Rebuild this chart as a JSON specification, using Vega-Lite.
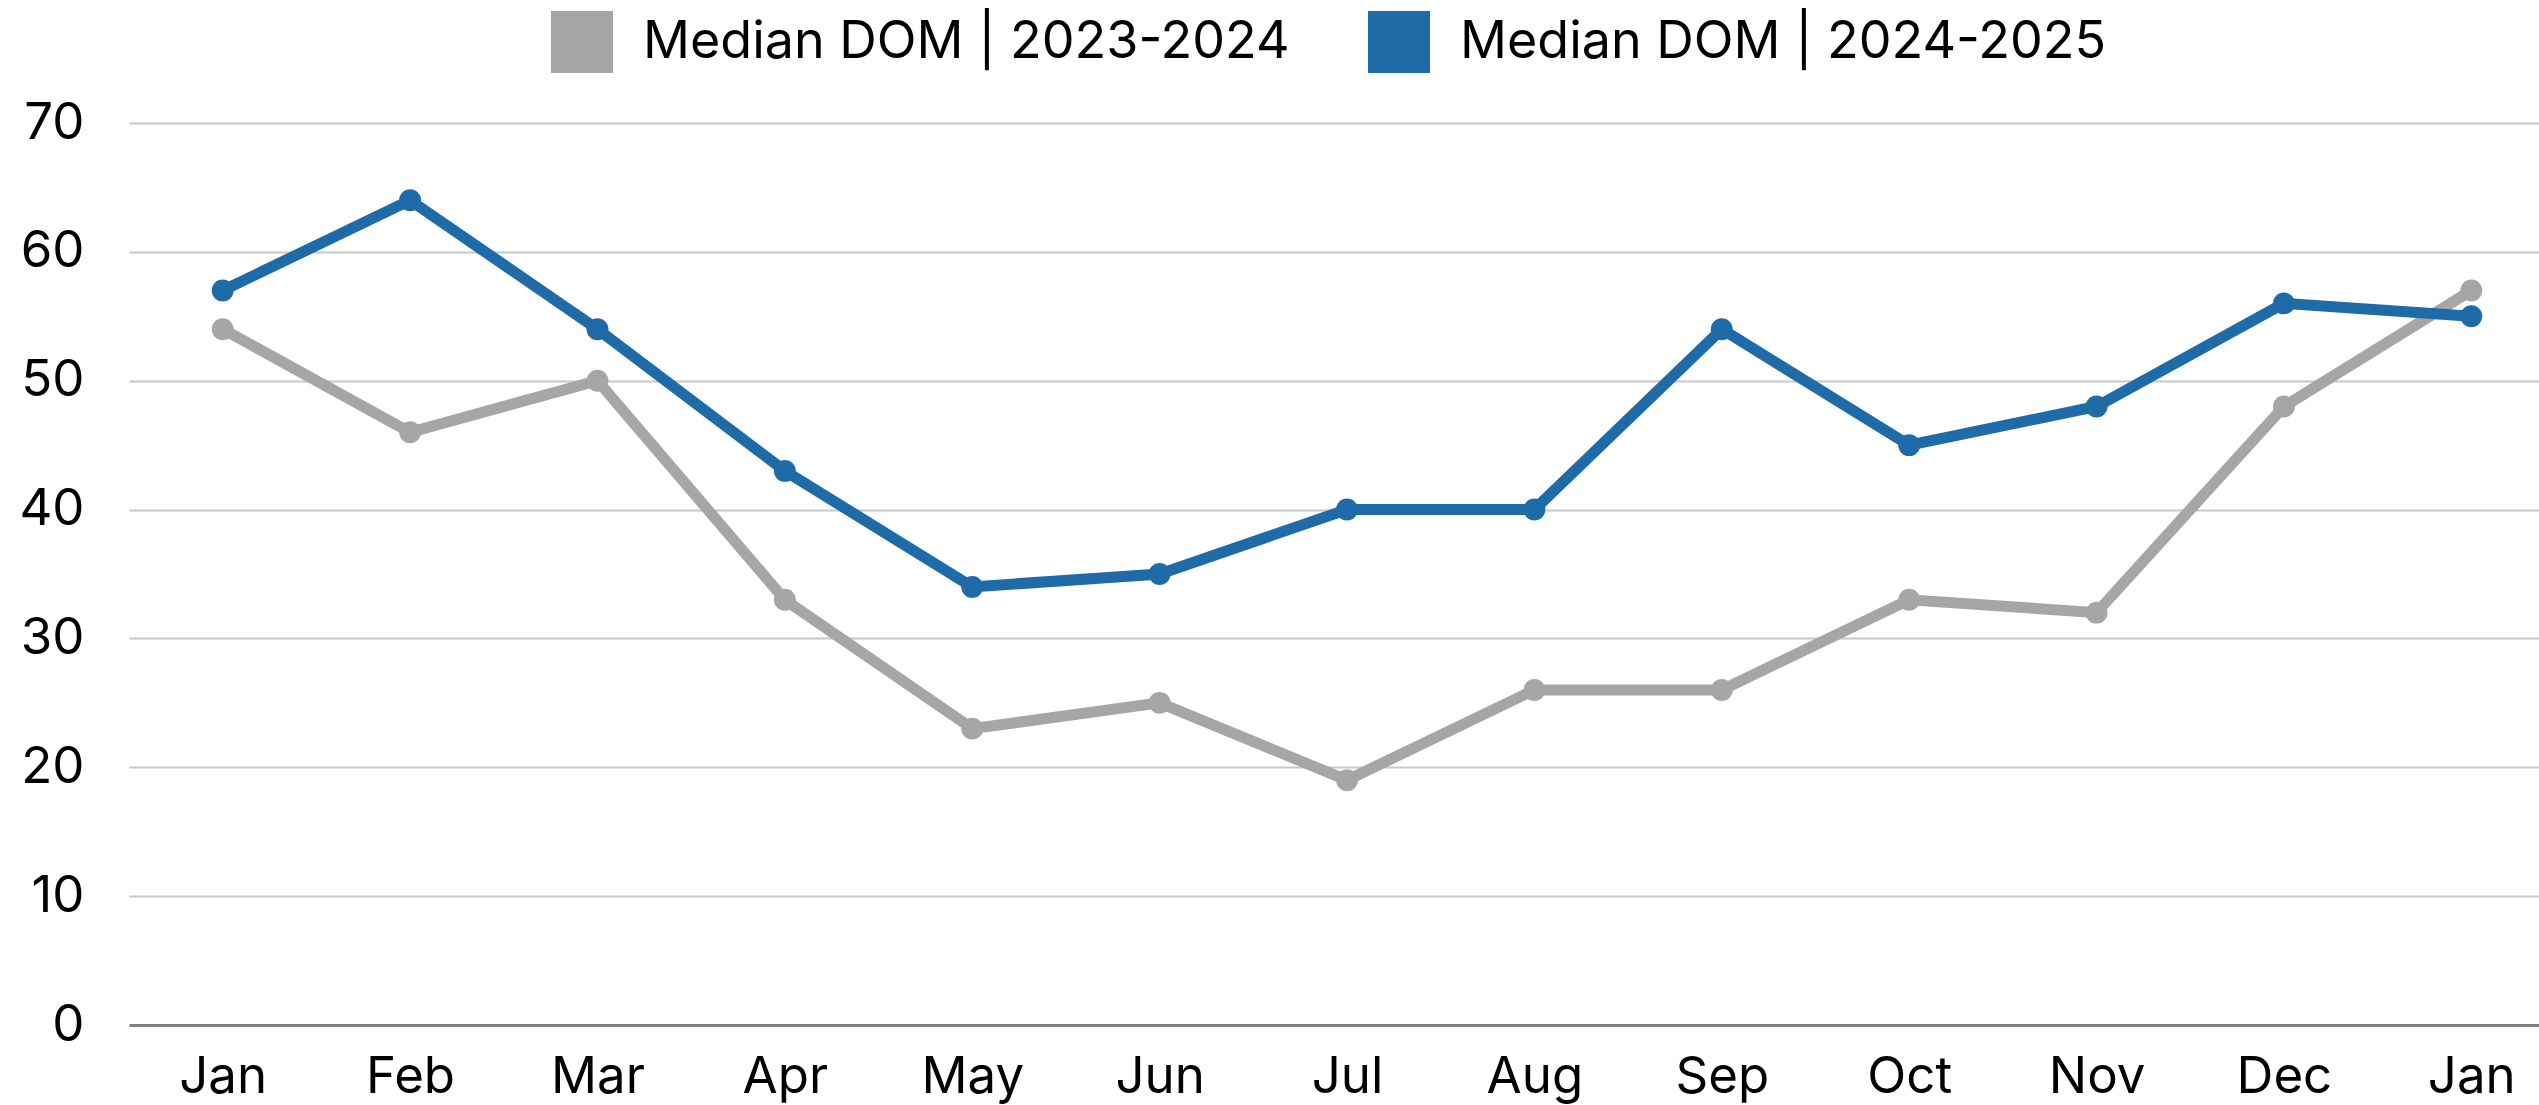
{
  "$schema": "https://vega.github.io/schema/vega-lite/v6.json",
  "autosize": {"type": "none"},
  "padding": {"left": 129, "top": 123, "right": 0, "bottom": 80},
  "width": 2436,
  "height": 902,
  "background": "white",
  "config": {
    "font": "Inter",
    "view": {"stroke": null},
    "axis": {"labelFont": "Inter", "labelColor": "#000000", "labelFontSize": 51, "title": null}
  },
  "data": {
    "values": [
      {"month": "Jan 2024", "series": "Median DOM | 2023-2024", "dom": 54},
      {"month": "Feb 2024", "series": "Median DOM | 2023-2024", "dom": 46},
      {"month": "Mar 2024", "series": "Median DOM | 2023-2024", "dom": 50},
      {"month": "Apr 2024", "series": "Median DOM | 2023-2024", "dom": 33},
      {"month": "May 2024", "series": "Median DOM | 2023-2024", "dom": 23},
      {"month": "Jun 2024", "series": "Median DOM | 2023-2024", "dom": 25},
      {"month": "Jul 2024", "series": "Median DOM | 2023-2024", "dom": 19},
      {"month": "Aug 2024", "series": "Median DOM | 2023-2024", "dom": 26},
      {"month": "Sep 2024", "series": "Median DOM | 2023-2024", "dom": 26},
      {"month": "Oct 2024", "series": "Median DOM | 2023-2024", "dom": 33},
      {"month": "Nov 2024", "series": "Median DOM | 2023-2024", "dom": 32},
      {"month": "Dec 2024", "series": "Median DOM | 2023-2024", "dom": 48},
      {"month": "Jan 2025", "series": "Median DOM | 2023-2024", "dom": 57},
      {"month": "Jan 2024", "series": "Median DOM | 2024-2025", "dom": 57},
      {"month": "Feb 2024", "series": "Median DOM | 2024-2025", "dom": 64},
      {"month": "Mar 2024", "series": "Median DOM | 2024-2025", "dom": 54},
      {"month": "Apr 2024", "series": "Median DOM | 2024-2025", "dom": 43},
      {"month": "May 2024", "series": "Median DOM | 2024-2025", "dom": 34},
      {"month": "Jun 2024", "series": "Median DOM | 2024-2025", "dom": 35},
      {"month": "Jul 2024", "series": "Median DOM | 2024-2025", "dom": 40},
      {"month": "Aug 2024", "series": "Median DOM | 2024-2025", "dom": 40},
      {"month": "Sep 2024", "series": "Median DOM | 2024-2025", "dom": 54},
      {"month": "Oct 2024", "series": "Median DOM | 2024-2025", "dom": 45},
      {"month": "Nov 2024", "series": "Median DOM | 2024-2025", "dom": 48},
      {"month": "Dec 2024", "series": "Median DOM | 2024-2025", "dom": 56},
      {"month": "Jan 2025", "series": "Median DOM | 2024-2025", "dom": 55}
    ]
  },
  "encoding": {
    "x": {
      "field": "month",
      "type": "ordinal",
      "sort": null,
      "scale": {"type": "point", "padding": 0.5},
      "axis": {
        "labelExpr": "split(datum.value, ' ')[0]",
        "labelAngle": 0,
        "domain": true,
        "domainColor": "#7f7f7f",
        "domainWidth": 3,
        "ticks": false,
        "grid": false,
        "labelPadding": 27
      }
    },
    "y": {
      "field": "dom",
      "type": "quantitative",
      "scale": {"domain": [0, 70], "nice": false},
      "axis": {
        "values": [0, 10, 20, 30, 40, 50, 60, 70],
        "domain": false,
        "ticks": false,
        "grid": true,
        "gridColor": "#c8c8c8",
        "gridWidth": 2,
        "labelPadding": 45
      }
    },
    "color": {
      "field": "series",
      "type": "nominal",
      "scale": {
        "domain": ["Median DOM | 2023-2024", "Median DOM | 2024-2025"],
        "range": ["#a6a6a6", "#1f6ba8"]
      },
      "legend": {
        "orient": "none",
        "direction": "horizontal",
        "legendX": 422,
        "legendY": -112,
        "title": null,
        "symbolType": "square",
        "symbolSize": 3844,
        "labelFontSize": 52,
        "labelFont": "Inter",
        "labelColor": "#000000",
        "labelOffset": 30,
        "columnPadding": 78,
        "labelLimit": 2000,
        "encode": {
          "symbols": {
            "update": {
              "fill": {"scale": "color", "field": "value"},
              "strokeWidth": {"value": 0},
              "fillOpacity": {"value": 1}
            }
          }
        }
      }
    }
  },
  "layer": [
    {"mark": {"type": "line", "strokeWidth": 11}},
    {"mark": {"type": "point", "filled": true, "size": 480, "opacity": 1}}
  ]
}
